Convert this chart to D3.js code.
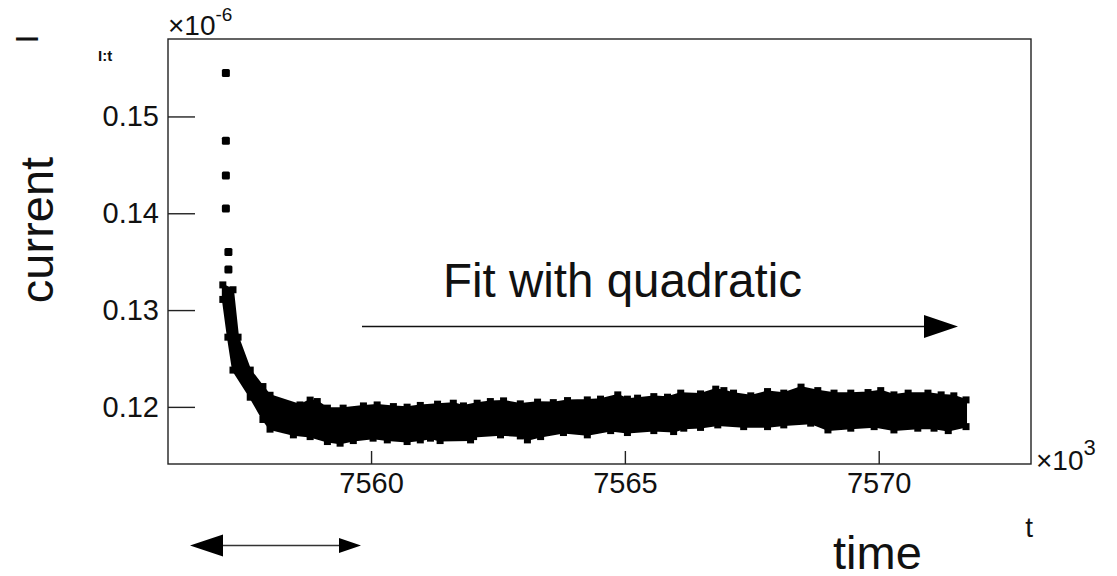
<!DOCTYPE html>
<html>
<head>
<meta charset="utf-8">
<script src="https://cdn.jsdelivr.net/npm/d3@7"></script>
<style>
  body { margin: 0; background: #fff; }
  text { font-family: "Liberation Sans", Arial, Helvetica, sans-serif; fill: #111; }
</style>
</head>
<body>
<svg id="chart" width="1117" height="576"></svg>
<script>
// values: t in units of 1e3, I in units of 1e-6

// isolated points at the start of the decay
var isoT = [7557.14, 7557.14, 7557.14, 7557.14, 7557.19, 7557.19];
var isoI = [0.1545, 0.1475, 0.1439, 0.1405, 0.1360, 0.1342];

// upper edge of the dense cloud of points
var upT = [7557.08, 7557.28, 7557.38, 7557.62, 7557.87, 7558.01, 7558.60, 7558.80, 7558.94, 7559.14,
  7559.45, 7559.85, 7560.12, 7560.44, 7560.71, 7560.97, 7561.31, 7561.62, 7561.82, 7562.09,
  7562.35, 7562.61, 7562.94, 7563.28, 7563.59, 7563.87, 7564.26, 7564.52, 7564.86, 7565.05,
  7565.25, 7565.57, 7565.84, 7566.10, 7566.49, 7566.79, 7566.95, 7567.14, 7567.48, 7567.81,
  7568.13, 7568.47, 7568.80, 7569.12, 7569.45, 7569.79, 7570.04, 7570.30, 7570.58, 7570.97,
  7571.23, 7571.48, 7571.72];
var upI = [0.1326, 0.1321, 0.1272, 0.1238, 0.1221, 0.1212, 0.1202, 0.1207, 0.12055, 0.11987,
  0.11987, 0.1201, 0.1202, 0.12003, 0.11997, 0.12015, 0.12028, 0.12038, 0.1201, 0.12038,
  0.12055, 0.12062, 0.12031, 0.12049, 0.12044, 0.12065, 0.12072, 0.12080, 0.12124, 0.12080,
  0.12090, 0.12106, 0.12100, 0.12142, 0.12134, 0.12183, 0.12168, 0.12142, 0.12114, 0.12158,
  0.12142, 0.12204, 0.12168, 0.12142, 0.12142, 0.12148, 0.12168, 0.12124, 0.12142, 0.12142,
  0.12124, 0.12114, 0.12072];

// lower edge of the cloud
var loT = [7557.08, 7557.18, 7557.28, 7557.62, 7557.87, 7558.01, 7558.47, 7558.80, 7559.14, 7559.39,
  7559.65, 7560.04, 7560.32, 7560.71, 7560.97, 7561.17, 7561.36, 7561.96, 7562.02, 7562.55,
  7562.94, 7563.08, 7563.34, 7563.79, 7564.26, 7564.72, 7565.05, 7565.57, 7565.96, 7566.16,
  7566.49, 7566.83, 7567.34, 7567.81, 7568.13, 7568.66, 7569.00, 7569.45, 7569.91, 7570.30,
  7570.77, 7571.09, 7571.37, 7571.72];
var loI = [0.1311, 0.1272, 0.1238, 0.1210, 0.1187, 0.1177, 0.11711, 0.11693, 0.11642, 0.11625,
  0.11652, 0.11677, 0.11659, 0.11642, 0.11659, 0.11677, 0.11652, 0.11659, 0.11693, 0.11711,
  0.11700, 0.11659, 0.11693, 0.11735, 0.11711, 0.11755, 0.11735, 0.11755, 0.11745, 0.11780,
  0.11788, 0.11814, 0.11796, 0.11796, 0.11814, 0.11832, 0.11762, 0.11780, 0.11796, 0.11762,
  0.11780, 0.11780, 0.11755, 0.11796];

var xTicks = [7560, 7565, 7570];
var yTicks = [0.12, 0.13, 0.14, 0.15];
var xDomain = [7556, 7573];
var yDomain = [0.1141, 0.158];

// frame (careful: "top" is taken by window.top)
var frameL = 168, frameR = 1031, frameT = 39, frameB = 464;

var svg = d3.select('#chart');

var x = d3.scaleLinear().domain(xDomain).range([frameL, frameR]);
var y = d3.scaleLinear().domain(yDomain).range([frameB, frameT]);

// cloud of points: upper edge left -> right, lower edge back
var upper = upT.map(function(t, i) { return [t, upI[i]]; });
var lower = loT.map(function(t, i) { return [t, loI[i]]; }).reverse();

var line = d3.line()
  .x(function(d) { return x(d[0]); })
  .y(function(d) { return y(d[1]); });

svg.append('path')
  .attr('d', line(upper.concat(lower)) + 'Z')
  .attr('fill', '#000')
  .attr('stroke', '#000')
  .attr('stroke-width', 2)
  .attr('stroke-linejoin', 'round');

// markers along both edges give the ragged look
var edge = upper.concat(lower);
svg.append('g').selectAll('rect.edge')
  .data(edge)
  .join('rect')
  .attr('class', 'edge')
  .attr('x', function(d) { return x(d[0]) - 3.5; })
  .attr('y', function(d) { return y(d[1]) - 3.5; })
  .attr('width', 7).attr('height', 7)
  .attr('fill', '#000');

svg.append('g').selectAll('rect.iso')
  .data(isoT.map(function(t, i) { return [t, isoI[i]]; }))
  .join('rect')
  .attr('class', 'iso')
  .attr('x', function(d) { return x(d[0]) - 4; })
  .attr('y', function(d) { return y(d[1]) - 4; })
  .attr('width', 8).attr('height', 8)
  .attr('rx', 1.5)
  .attr('fill', '#000');

// axes, ticks pointing inside the frame
var xAxis = d3.axisBottom(x).tickValues(xTicks).tickFormat(d3.format('d'))
  .tickSizeInner(-13).tickSizeOuter(0).tickPadding(8);
var yAxis = d3.axisLeft(y).tickValues(yTicks).tickFormat(d3.format('.2f'))
  .tickSizeInner(-27).tickSizeOuter(0).tickPadding(9);

var gx = svg.append('g').attr('transform', 'translate(0,' + frameB + ')').call(xAxis);
var gy = svg.append('g').attr('transform', 'translate(' + frameL + ',0)').call(yAxis);
[gx, gy].forEach(function(g) {
  g.select('.domain').remove();
  g.selectAll('.tick line').attr('stroke', '#222').attr('stroke-width', 1.4);
  g.selectAll('.tick text').style('font-size', '29px').attr('fill', '#111');
});

svg.append('rect')
  .attr('x', frameL).attr('y', frameT)
  .attr('width', frameR - frameL).attr('height', frameB - frameT)
  .attr('fill', 'none').attr('stroke', '#222').attr('stroke-width', 1.4);

// exponent labels
var expTop = svg.append('text').attr('x', frameL).attr('y', 35).style('font-size', '28px');
expTop.append('tspan').text('\u00d710');
expTop.append('tspan').attr('dy', -14).style('font-size', '19px').text('-6');

var expRight = svg.append('text').attr('x', 1036).attr('y', 470).style('font-size', '28px');
expRight.append('tspan').text('\u00d710');
expRight.append('tspan').attr('dy', -15).style('font-size', '22px').text('3');

// titles
svg.append('text').attr('x', 98).attr('y', 61)
  .style('font-size', '15px').style('font-weight', 'bold').text('I:t');

svg.append('text')
  .attr('transform', 'translate(38,39) rotate(-90)')
  .attr('text-anchor', 'middle')
  .style('font-size', '32px').text('I');

svg.append('text')
  .attr('transform', 'translate(53,230) rotate(-90)')
  .attr('text-anchor', 'middle')
  .style('font-size', '47px').text('current');

svg.append('text').attr('x', 1033).attr('y', 537)
  .attr('text-anchor', 'end')
  .style('font-size', '28px').text('t');

svg.append('text').attr('x', 833).attr('y', 569)
  .style('font-size', '47px').text('time');

svg.append('text').attr('x', 443).attr('y', 297)
  .style('font-size', '47.5px').text('Fit with quadratic');

// arrows
svg.append('line')
  .attr('x1', 362).attr('y1', 326.5).attr('x2', 930).attr('y2', 326.5)
  .attr('stroke', '#111').attr('stroke-width', 1.5);
svg.append('path')
  .attr('d', 'M924,315L958,326.5L924,338Z')
  .attr('fill', '#000');

svg.append('line')
  .attr('x1', 215).attr('y1', 545.5).attr('x2', 345).attr('y2', 545.5)
  .attr('stroke', '#333').attr('stroke-width', 1.5);
svg.append('path')
  .attr('d', 'M190,545.5L223,534.5L223,556.5Z')
  .attr('fill', '#000');
svg.append('path')
  .attr('d', 'M339,538L361,545.5L339,553Z')
  .attr('fill', '#000');
</script>
</body>
</html>
